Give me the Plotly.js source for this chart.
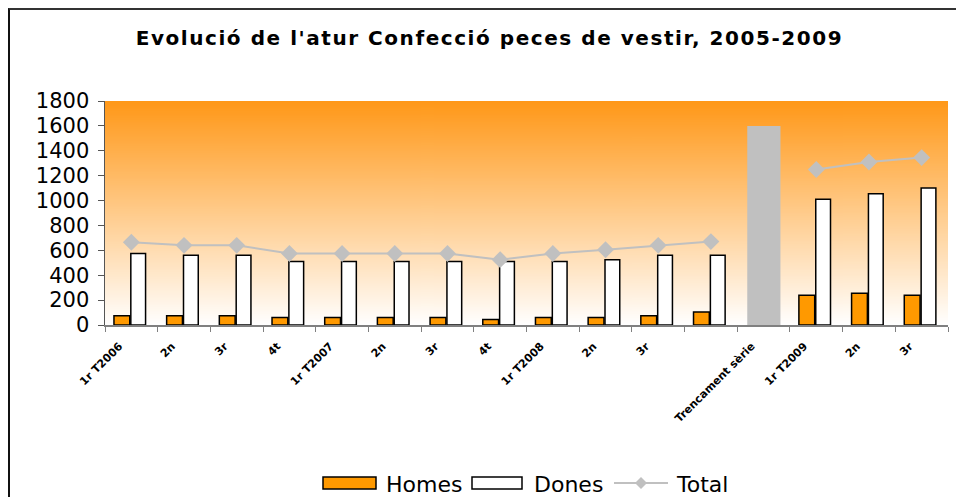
<!DOCTYPE html>
<html>
<head>
<meta charset="utf-8">
<script src="https://cdn.plot.ly/plotly-3.0.1.min.js"></script>
<style>
  html, body { margin: 0; padding: 0; background: #fff; }
  #chart { width: 956px; height: 497px; position: relative; }
  #frame { position: absolute; left: 8px; top: 8px; width: 960px; height: 500px;
           border-left: 2px solid #111; border-top: 2px solid #333; pointer-events: none; }
  #chart .gtitle { letter-spacing: 1.55px; }
</style>
</head>
<body>
<div id="chart"></div>
<div id="frame"></div>
<script>
// ---- data ----
const categories = ['1r T2006','2n T2006','3r T2006','4t T2006',
                    '1r T2007','2n T2007','3r T2007','4t T2007',
                    '1r T2008','2n T2008','3r T2008','4t T2008',
                    'Trencament sèrie','1r T2009','2n T2009','3r T2009'];
const tickLabels = ['1r T2006','2n','3r','4t',
                    '1r T2007','2n','3r','4t',
                    '1r T2008','2n','3r','',
                    'Trencament sèrie','1r T2009','2n','3r'];
const homes = [75, 75, 75, 60, 60, 60, 60, 45, 60, 60, 75, 105, null, 240, 255, 240];
const dones = [575, 560, 560, 510, 510, 510, 510, 510, 510, 525, 560, 560, null, 1010, 1055, 1100];
const total = [665, 640, 640, 575, 575, 575, 575, 525, 575, 605, 640, 670, null, 1250, 1310, 1345];
const breakBar = [null, null, null, null, null, null, null, null, null, null, null, null, 1600, null, null, null];
const legendNames = ['Homes', 'Dones', 'Total'];

// ---- gradient background image ----
const cv = document.createElement('canvas');
cv.width = 4; cv.height = 256;
const ctx = cv.getContext('2d');
const g = ctx.createLinearGradient(0, 0, 0, 256);
g.addColorStop(0, 'rgb(255,152,24)');
g.addColorStop(1, 'rgb(255,255,255)');
ctx.fillStyle = g;
ctx.fillRect(0, 0, 4, 256);
const bgURL = cv.toDataURL('image/png');

// plot-area geometry (px) for the hand-drawn legend
const L = 105, R = 8, T = 101, B = 172, W = 956, H = 497;
const pw = W - L - R, ph = H - T - B;
const px = v => (v - L) / pw;
const py = v => (H - B - v) / ph;

const traces = [
  {
    type: 'bar', name: legendNames[0], x: categories, y: homes,
    offset: -0.33, width: 0.30,
    marker: { color: '#FF9900', line: { color: '#000', width: 1.5 } }
  },
  {
    type: 'bar', name: legendNames[1], x: categories, y: dones,
    offset: -0.01, width: 0.28,
    marker: { color: '#FFFFFF', line: { color: '#000', width: 1.5 } }
  },
  {
    type: 'bar', name: 'Trencament', x: categories, y: breakBar,
    offset: -0.31, width: 0.63,
    marker: { color: '#C0C0C0', line: { width: 0 } }
  },
  {
    type: 'scatter', mode: 'lines+markers', name: legendNames[2], x: categories, y: total,
    line: { color: '#C0C0C0', width: 2 },
    marker: { symbol: 'diamond', size: 13, color: '#C0C0C0' },
    connectgaps: false
  }
];

const ly = 483; // legend row centre (px)
const shapes = [
  { type: 'rect', xref: 'paper', yref: 'paper', x0: px(323), x1: px(376), y0: py(489), y1: py(477),
    fillcolor: '#FF9900', line: { color: '#000', width: 1.5 } },
  { type: 'rect', xref: 'paper', yref: 'paper', x0: px(472), x1: px(522), y0: py(489), y1: py(477),
    fillcolor: '#FFFFFF', line: { color: '#000', width: 1.5 } },
  { type: 'line', xref: 'paper', yref: 'paper', x0: px(614), x1: px(668), y0: py(ly), y1: py(ly),
    line: { color: '#C0C0C0', width: 2 } },
  { type: 'path', xref: 'paper', yref: 'paper',
    path: 'M' + px(635) + ',' + py(ly) + ' L' + px(641) + ',' + py(ly - 6) + ' L' + px(647) + ',' + py(ly) +
          ' L' + px(641) + ',' + py(ly + 6) + ' Z',
    fillcolor: '#C0C0C0', line: { width: 0 } }
];
const annotations = [
  { text: legendNames[0], x: px(384), y: py(ly + 1), xref: 'paper', yref: 'paper', xanchor: 'left', yanchor: 'middle',
    showarrow: false, font: { size: 22 } },
  { text: legendNames[1], x: px(532), y: py(ly + 1), xref: 'paper', yref: 'paper', xanchor: 'left', yanchor: 'middle',
    showarrow: false, font: { size: 22 } },
  { text: legendNames[2], x: px(674), y: py(ly + 1), xref: 'paper', yref: 'paper', xanchor: 'left', yanchor: 'middle',
    showarrow: false, font: { size: 22 } }
];

const layout = {
  width: W, height: H,
  margin: { l: L, r: R, t: T, b: B, autoexpand: false },
  paper_bgcolor: '#FFFFFF',
  plot_bgcolor: 'rgba(0,0,0,0)',
  barmode: 'overlay',
  showlegend: false,
  font: { family: 'DejaVu Sans, Verdana, sans-serif', color: '#000' },
  title: {
    text: "Evolució de l'atur Confecció peces de vestir, 2005-2009",
    font: { family: 'DejaVu Sans, Verdana, sans-serif', size: 20, color: '#000', weight: 'bold' },
    x: 0.512, xref: 'container', xanchor: 'center',
    y: 0.924, yref: 'container', yanchor: 'middle'
  },
  images: [{
    source: bgURL, xref: 'paper', yref: 'paper', x: 0, y: 1,
    sizex: 1, sizey: 1, sizing: 'stretch', layer: 'below', xanchor: 'left', yanchor: 'top'
  }],
  xaxis: {
    type: 'category', range: [-0.5, 15.5], automargin: false,
    tickmode: 'array', tickvals: categories, ticktext: tickLabels,
    tickangle: -45, ticklabelstandoff: 9, ticklabelshift: -12,
    tickfont: { size: 11, weight: 'bold', family: 'DejaVu Sans, Verdana, sans-serif' },
    showline: true, linecolor: '#808080', linewidth: 1.5,
    ticks: 'outside', ticklen: 5, tickcolor: '#808080', tickson: 'boundaries',
    showgrid: false, zeroline: false, fixedrange: true
  },
  yaxis: {
    range: [0, 1800], dtick: 200, tick0: 0, automargin: false,
    tickfont: { size: 21 }, ticklabelstandoff: 4,
    showline: true, linecolor: '#555', linewidth: 1.5,
    ticks: 'outside', ticklen: 6, tickcolor: '#555',
    showgrid: false, zeroline: false, fixedrange: true
  },
  shapes: shapes,
  annotations: annotations
};

Plotly.newPlot('chart', traces, layout, { displayModeBar: false, staticPlot: true });
</script>
</body>
</html>
